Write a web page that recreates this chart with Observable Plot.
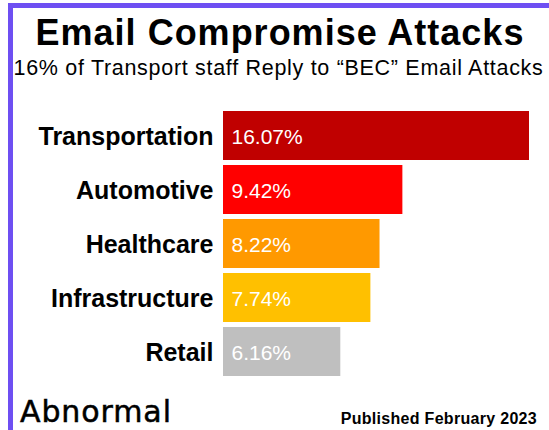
<!DOCTYPE html>
<html>
<head>
<meta charset="utf-8">
<script src="https://cdn.jsdelivr.net/npm/d3@7"></script>
<script src="https://cdn.jsdelivr.net/npm/@observablehq/plot@0.6"></script>
<style>
  html, body { margin: 0; padding: 0; background: #fff; }
  body { width: 549px; height: 430px; position: relative; overflow: hidden; font-family: "Liberation Sans", Arial, sans-serif; color: #000; }
  #frame { position: absolute; left: 8px; top: 3px; width: 541px; height: 427px; border-top: 5px solid #6E4FF2; border-left: 5px solid #6E4FF2; box-sizing: border-box; }
  .t { position: absolute; white-space: nowrap; line-height: 1; }
  #title { left: 0; width: 549px; padding-left: 11px; box-sizing: border-box; text-align: center; top: 14.5px; font-size: 36px; font-weight: bold; letter-spacing: 1px; }
  #subtitle { left: 0; width: 549px; padding-left: 8px; box-sizing: border-box; text-align: center; top: 57.8px; font-size: 21.5px; letter-spacing: 0.7px; }
  #chart { position: absolute; left: 0; top: 100px; }
  #logo { left: 20px; top: 397px; font-family: "DejaVu Sans", sans-serif; font-size: 30px; letter-spacing: 0.9px; -webkit-text-stroke: 0.5px #000; }
  #pub { right: 12px; top: 410.5px; font-size: 16px; font-weight: bold; letter-spacing: 0.3px; }
</style>
</head>
<body>
<div id="frame"></div>
<div class="t" id="title">Email Compromise Attacks</div>
<div class="t" id="subtitle">16% of Transport staff Reply to “BEC” Email Attacks</div>
<div id="chart"></div>
<div class="t" id="logo">Abnormal</div>
<div class="t" id="pub">Published February 2023</div>
<script>
const categories = ["Transportation", "Automotive", "Healthcare", "Infrastructure", "Retail"];
const values = [16.07, 9.42, 8.22, 7.74, 6.16];
const valueLabels = ["16.07%", "9.42%", "8.22%", "7.74%", "6.16%"];
const colors = ["#C00000", "#FF0000", "#FF9900", "#FFC000", "#BFBFBF"];

const data = categories.map((c, i) => ({category: c, value: values[i], label: valueLabels[i]}));

const chart = Plot.plot({
  width: 549,
  height: 290,
  marginLeft: 223,
  marginRight: 20,
  marginTop: 3,
  marginBottom: 6.5,
  style: {fontFamily: "'Liberation Sans', Arial, sans-serif", color: "#000", background: "transparent", overflow: "visible"},
  x: {domain: [0, 16.07], axis: null},
  y: {domain: categories, padding: 0.1, label: null},
  color: {domain: categories, range: colors},
  marks: [
    Plot.barX(data, {y: "category", x: "value", fill: "category"}),
    Plot.text(data, {y: "category", x: 0, text: "label", textAnchor: "start", dx: 8, dy: 1, fill: "#fff", fontSize: 21}),
    Plot.axisY({tickSize: 0, tickPadding: 10, fontSize: 25, fontWeight: "bold", fill: "#000", label: null, dy: 1, style: {letterSpacing: "0.3px"}})
  ]
});
document.getElementById("chart").appendChild(chart);
</script>
</body>
</html>
